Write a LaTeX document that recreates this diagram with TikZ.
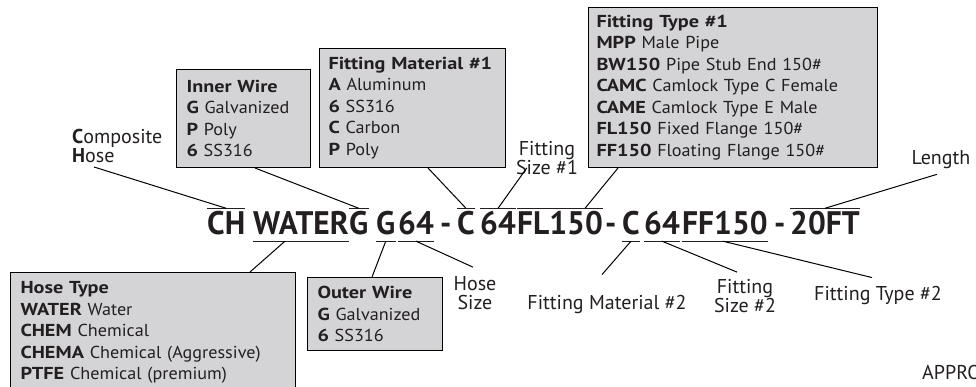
\documentclass[tikz,border=0pt]{standalone}
\usepackage{fontspec}
\setmainfont{PT Sans}
\newfontfamily\notefamily{PT Sans}[FakeStretch=1.05]
\newfontfamily\keyfont{PT Sans}[BoldFeatures={FakeStretch=1.17}]
\newfontfamily\codefamily{PT Sans}[BoldFeatures={FakeStretch=0.965}]
\usetikzlibrary{positioning}
\definecolor{cBoxGray}{RGB}{212,212,214}
\definecolor{cInk}{RGB}{35,31,32}
\newcommand{\codefont}{\codefamily\fontsize{32.6}{36}\selectfont\bfseries}
\newcommand{\notefont}{\notefamily\fontsize{17.3}{21.5}\selectfont}
\newcommand{\labelfont}{\fontsize{20}{19}\selectfont}
\newcommand{\entry}[2]{\mbox{{\keyfont\bfseries #1} #2}}
\tikzset{
	codeseg/.style ={font=\codefont, text=cInk, inner xsep=0pt, inner ysep=3.5pt, text height=23pt, text depth=2.5pt, anchor=base west},
	infobox/.style ={rectangle, draw=black, line width=1pt, fill=cBoxGray, anchor=north west, align=left, inner xsep=10pt, inner ysep=4pt, font=\notefont, text=cInk},
	note/.style    ={font=\labelfont, text=cInk, align=center, inner sep=2pt},
	bar/.style     ={line width=1.2pt, cInk},
	lead/.style    ={line width=1pt, black},
}
\begin{document}
\begin{tikzpicture}[x=1pt, y=-1pt]
	\clip (0,0) rectangle (976,387);
	% part number
	\node[codeseg] (ch)    at (207,235) {CH};
	\node[codeseg] (water) at (253,235) {WATER};
	\node[codeseg] (gin)   at (349,235) {G};
	\node[codeseg] (gout)  at (376,235) {G};
	\node[codeseg] (hsize) at (398,235) {64};
	\node[codeseg] (dashA) at (440,235) {-};
	\node[codeseg] (matA)  at (457,235) {C};
	\node[codeseg] (sizeA) at (480,235) {64};
	\node[codeseg] (typeA) at (517,235) {FL150};
	\node[codeseg] (dashB) at (605,235) {-};
	\node[codeseg] (matB)  at (622,235) {C};
	\node[codeseg] (sizeB) at (644,235) {64};
	\node[codeseg] (typeB) at (682,235) {FF150};
	\node[codeseg] (dashC) at (774,235) {-};
	\node[codeseg] (len)   at (790,235) {20FT};
	\foreach \n in {ch,gin,matA,sizeA,typeA,len} \draw[bar] (\n.north west) -- (\n.north east);
	\foreach \n in {water,gout,hsize,matB,sizeB,typeB} \draw[bar] (\n.south west) -- (\n.south east);
	% boxes
	\node[infobox, text width=114pt, minimum height=98pt] (innerwire) at (176,69) {\entry{Inner Wire}{}\\ \entry{G}{Galvanized}\\ \entry{P}{Poly}\\ \entry{6}{SS316}};
	\node[infobox, text width=168pt, minimum height=119pt, inner xsep=9pt] (fitmatA) at (319,48) {\entry{Fitting Material \#1}{}\\ \entry{A}{Aluminum}\\ \entry{6}{SS316}\\ \entry{C}{Carbon}\\ \entry{P}{Poly}};
	\node[infobox, text width=273pt, minimum height=160pt, inner xsep=8pt] (fittypeA) at (588,7) {\entry{Fitting Type \#1}{}\\ \entry{MPP}{Male Pipe}\\ \entry{BW150}{Pipe Stub End 150\#}\\ \entry{CAMC}{Camlock Type C Female}\\ \entry{CAME}{Camlock Type E Male}\\ \entry{FL150}{Fixed Flange 150\#}\\ \entry{FF150}{Floating Flange 150\#}};
	\node[infobox, text width=265pt, minimum height=120pt] (hosetype) at (10,272) {\entry{Hose Type}{}\\ \entry{WATER}{Water}\\ \entry{CHEM}{Chemical}\\ \entry{CHEMA}{Chemical (Aggressive)}\\ \entry{PTFE}{Chemical (premium)}};
	\node[infobox, text width=115pt, minimum height=73pt] (outerwire) at (307,277) {\entry{Outer Wire}{}\\ \entry{G}{Galvanized}\\ \entry{6}{SS316}};
	% labels
	\node[note, align=left, anchor=south west] (comphose) at (70,165) {\textbf{C}omposite\\ \textbf{H}ose};
	\node[note] (sizeAlbl)    at (547,158) {Fitting\\ Size \#1};
	\node[note] (lenlbl)      at (941,160) {Length};
	\node[note] (hosesizelbl) at (475,293) {Hose\\ Size};
	\node[note] (matBlbl)     at (607,304) {Fitting Material \#2};
	\node[note] (sizeBlbl)    at (745,296) {Fitting\\ Size \#2};
	\node[note] (typeBlbl)    at (878,295) {Fitting Type \#2};
	\node[note, anchor=west] (approx) at (920,372) {APPROX};
	% leaders
	\draw[lead] ([xshift=24pt,yshift=-2pt]comphose.south west) -- (ch.north);
	\draw[lead] ([xshift=79pt]innerwire.south west) -- (gin.north);
	\draw[lead] ([xshift=109pt]fitmatA.south west) -- (matA.north);
	\draw[lead] ([xshift=13pt,yshift=9pt]sizeAlbl.south west) -- (sizeA.north);
	\draw[lead] ([xshift=30pt]fittypeA.south west) -- ([xshift=25pt]typeA.north);
	\draw[lead] ([xshift=-4pt,yshift=-3pt]lenlbl.south) -- (len.north);
	\draw[lead] ([xshift=-16pt]water.south) -- ([xshift=240pt]hosetype.north west);
	\draw[lead] (gout.south) -- ([xshift=65pt]outerwire.north west);
	\draw[lead] (hsize.south) -- ([xshift=-2pt,yshift=7pt]hosesizelbl.north);
	\draw[lead] (matB.south) -- ([xshift=-5pt,yshift=18pt]matBlbl.north);
	\draw[lead] (sizeB.south) -- ([xshift=-8pt,yshift=5pt]sizeBlbl.north);
	\draw[lead] ([xshift=-2pt]typeB.south) -- ([xshift=-6pt,yshift=6pt]typeBlbl.north);
\end{tikzpicture}
\end{document}
